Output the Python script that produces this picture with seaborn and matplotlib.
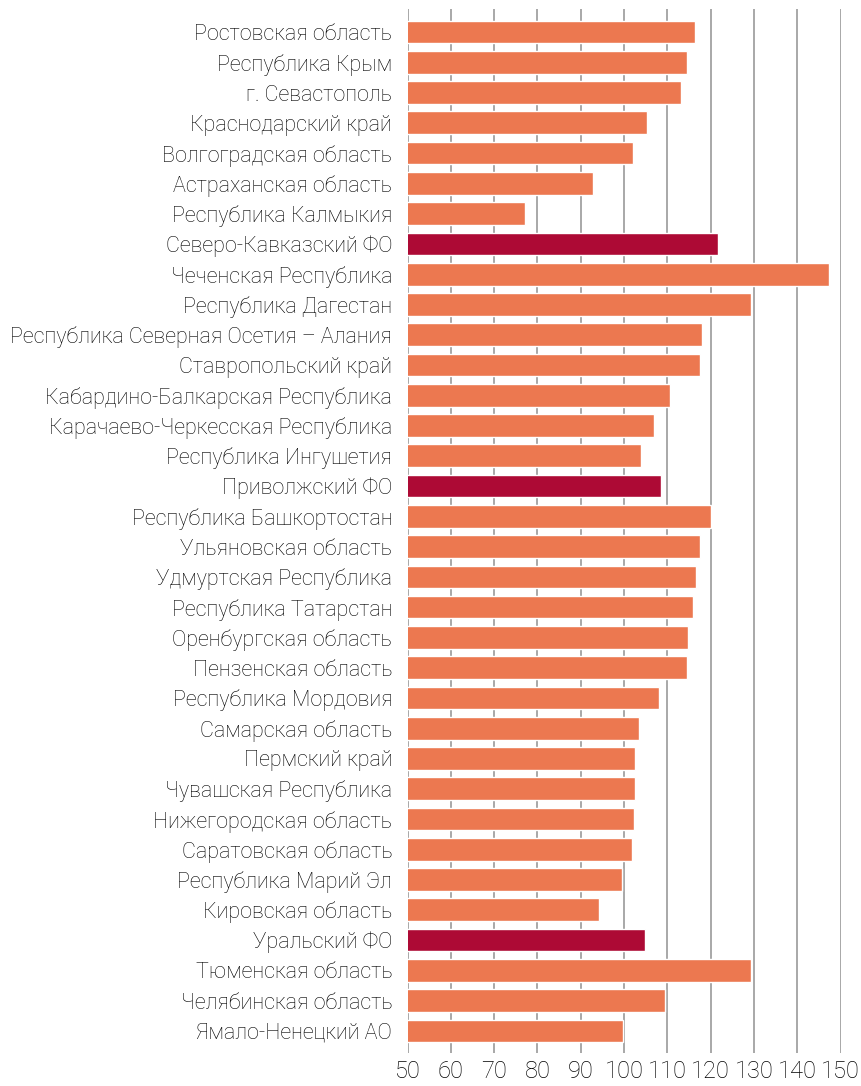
import pandas as pd
import seaborn as sns
import matplotlib.pyplot as plt

regions = [
    "Ростовская область", "Республика Крым", "г. Севастополь",
    "Краснодарский край", "Волгоградская область", "Астраханская область",
    "Республика Калмыкия", "Северо-Кавказский ФО", "Чеченская Республика",
    "Республика Дагестан", "Республика Северная Осетия – Алания",
    "Ставропольский край", "Кабардино-Балкарская Республика",
    "Карачаево-Черкесская Республика", "Республика Ингушетия",
    "Приволжский ФО", "Республика Башкортостан", "Ульяновская область",
    "Удмуртская Республика", "Республика Татарстан", "Оренбургская область",
    "Пензенская область", "Республика Мордовия", "Самарская область",
    "Пермский край", "Чувашская Республика", "Нижегородская область",
    "Саратовская область", "Республика Марий Эл", "Кировская область",
    "Уральский ФО", "Тюменская область", "Челябинская область",
    "Ямало-Ненецкий АО",
]
values = [
    116.4, 114.5, 113.2, 105.3, 102.1, 92.8, 77.2, 121.7, 147.3,
    129.3, 118.0, 117.5, 110.6, 106.9, 103.9, 108.5, 120.1, 117.5,
    116.6, 115.9, 114.8, 114.5, 108.1, 103.5, 102.5, 102.5, 102.3,
    101.8, 99.5, 94.2, 104.8, 129.3, 109.5, 99.8,
]
districts = ["Северо-Кавказский ФО", "Приволжский ФО", "Уральский ФО"]

df = pd.DataFrame({"region": regions, "value": values})
df["kind"] = ["fd" if r in districts else "reg" for r in regions]

sns.set_style("white")
plt.rcParams["font.family"] = ["Roboto", "DejaVu Sans"]

fig = plt.figure(figsize=(8.61, 10.86), dpi=100)
ax = fig.add_axes([0.4733, 0.0304, 0.5031, 0.9613])

sns.barplot(data=df, x="value", y="region", hue="kind",
            palette={"reg": "#EC7850", "fd": "#AD0A35"},
            orient="h", width=0.75, dodge=False, legend=False,
            saturation=1, ax=ax)

ax.set_xlim(50, 150)
ax.set_ylim(len(regions) - 1 + 0.73, -0.76)
ax.set_xticks(range(50, 151, 10))
ax.grid(axis="x", color="#A8A8A8", linewidth=1.4)
ax.set_axisbelow(True)
for s in ax.spines.values():
    s.set_visible(False)
ax.tick_params(axis="both", length=0, colors="#000000")
ax.tick_params(axis="y", pad=11, labelsize=15.5)
ax.tick_params(axis="x", pad=5, labelsize=17)
for t in ax.get_xticklabels() + ax.get_yticklabels():
    t.set_fontweight("light")
ax.set_xlabel("")
ax.set_ylabel("")

plt.savefig("out.png", dpi=100)
